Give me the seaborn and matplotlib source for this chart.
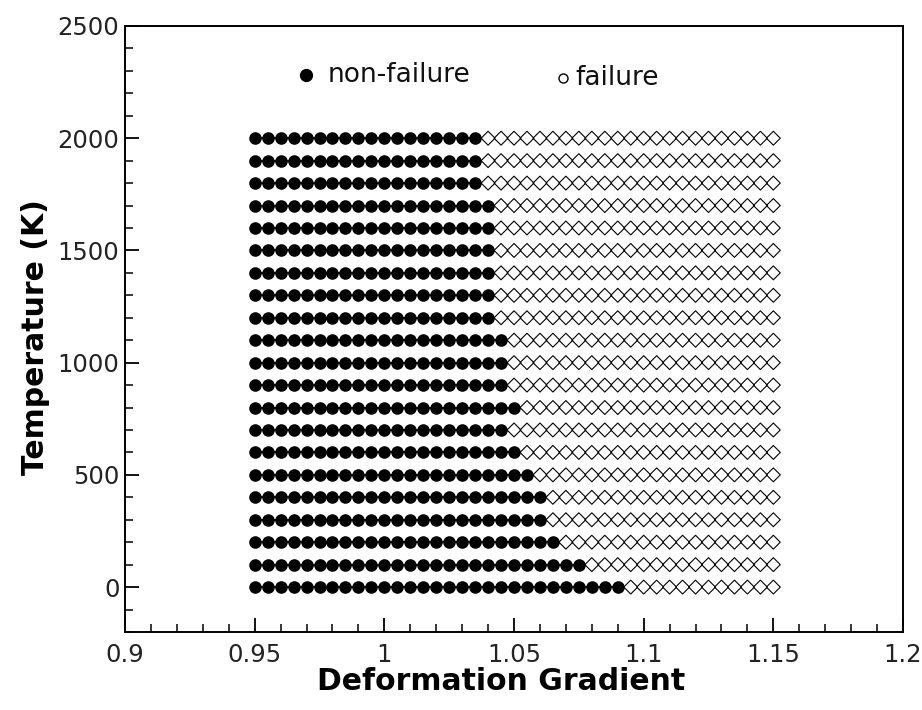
import matplotlib
matplotlib.use("Agg")
import matplotlib.pyplot as plt
import numpy as np
import pandas as pd
import seaborn as sns
from matplotlib.ticker import MultipleLocator, FixedLocator, FixedFormatter

# ---- data ----
temperatures = [2000, 1900, 1800, 1700, 1600, 1500, 1400, 1300, 1200, 1100,
                1000, 900, 800, 700, 600, 500, 400, 300, 200, 100, 0]
# largest deformation gradient that does not fail, per temperature row
last_non_failure = [1.035, 1.035, 1.035, 1.040, 1.040, 1.040, 1.040, 1.040, 1.040, 1.045,
                    1.045, 1.045, 1.050, 1.045, 1.050, 1.055, 1.060, 1.060, 1.065, 1.075, 1.090]
deformation_gradients = [0.950, 0.955, 0.960, 0.965, 0.970, 0.975, 0.980, 0.985, 0.990, 0.995,
                         1.000, 1.005, 1.010, 1.015, 1.020, 1.025, 1.030, 1.035, 1.040, 1.045,
                         1.050, 1.055, 1.060, 1.065, 1.070, 1.075, 1.080, 1.085, 1.090, 1.095,
                         1.100, 1.105, 1.110, 1.115, 1.120, 1.125, 1.130, 1.135, 1.140, 1.145,
                         1.150]
x_ticks = [0.9, 0.95, 1.0, 1.05, 1.1, 1.15, 1.2]
x_tick_labels = ["0.9", "0.95", "1", "1.05", "1.1", "1.15", "1.2"]
y_ticks = [0, 500, 1000, 1500, 2000, 2500]
y_tick_labels = ["0", "500", "1000", "1500", "2000", "2500"]

rows = []
for T, lim in zip(temperatures, last_non_failure):
    for F in deformation_gradients:
        rows.append({"F": F, "T": T,
                     "status": "non-failure" if F <= lim + 1e-9 else "failure"})
df = pd.DataFrame(rows)
safe = df[df["status"] == "non-failure"]
fail = df[df["status"] == "failure"]

sns.set_theme(style="white")
plt.rcParams["font.family"] = ["DejaVu Sans"]

fig = plt.figure(figsize=(9.22, 7.10), dpi=100)
ax = fig.add_axes([0.1356, 0.1099, 0.9794 - 0.1356, 0.9634 - 0.1099])

sns.lineplot(data=safe, x="F", y="T", units="T", estimator=None, sort=True,
             color="black", lw=1.2, ax=ax, legend=False)
sns.scatterplot(data=safe, x="F", y="T", marker="o", s=82, color="black",
                edgecolor="black", linewidth=0, ax=ax, legend=False, zorder=3)
sns.scatterplot(data=fail, x="F", y="T", marker="D", s=50, facecolor="none",
                edgecolor="black", linewidth=0.8, ax=ax, legend=False, zorder=3)

ax.set_xlim(0.9, 1.2)
ax.set_ylim(-200, 2500)

ax.xaxis.set_major_locator(FixedLocator(x_ticks))
ax.xaxis.set_major_formatter(FixedFormatter(x_tick_labels))
ax.xaxis.set_minor_locator(MultipleLocator(0.01))
ax.yaxis.set_major_locator(FixedLocator(y_ticks))
ax.yaxis.set_major_formatter(FixedFormatter(y_tick_labels))
ax.yaxis.set_minor_locator(MultipleLocator(100))

ax.tick_params(axis="both", which="both", direction="in", bottom=True, left=True,
               top=False, right=False, color="black", labelcolor="#222222")
ax.tick_params(axis="both", which="major", length=10, width=1.3, labelsize=17.5)
ax.tick_params(axis="both", which="minor", length=5.5, width=1.1)
ax.tick_params(axis="x", which="major", pad=8)
ax.tick_params(axis="y", which="major", pad=4)

for sp in ax.spines.values():
    sp.set_visible(True)
    sp.set_color("black")
    sp.set_linewidth(1.4)

ax.set_xlabel("Deformation Gradient", fontsize=21.5, fontweight="bold", color="black")
ax.set_ylabel("Temperature (K)", fontsize=21.5, fontweight="bold", color="black")
ax.xaxis.set_label_coords(0.483, -0.058)
ax.yaxis.set_label_coords(-0.097, 0.487)

# in-plot key
ax.plot([0.9698], [2282], marker="o", ms=8.5, color="black", linestyle="none")
ax.text(0.9783, 2282, "non-failure", fontsize=19, va="center", ha="left", color="#111111")
ax.plot([1.0689], [2268], marker="o", ms=6.5, mfc="none", mec="black", mew=1.0,
        linestyle="none")
ax.text(1.0735, 2268, "failure", fontsize=19, va="center", ha="left", color="#111111")

fig.savefig("out.png", dpi=100, facecolor="white")
